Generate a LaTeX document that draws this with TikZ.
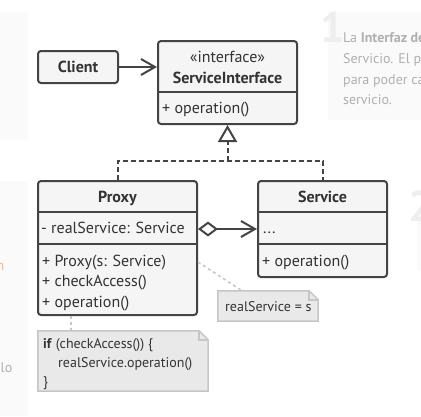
\documentclass[tikz,border=0pt]{standalone}
\usepackage{xcolor}
\usepackage{fontspec}
\setmainfont{PT Sans}
\usepackage{tikz}
\usetikzlibrary{calc}
\usetikzlibrary{arrows.meta}

\definecolor{boxline}{HTML}{444444}
\definecolor{boxfill}{HTML}{F5F5F5}
\definecolor{textcol}{HTML}{333333}
\definecolor{notefill}{HTML}{E9E9E9}
\definecolor{noteline}{HTML}{C6C6C6}
\definecolor{panelfill}{HTML}{FAFAFA}
\definecolor{fadetext}{HTML}{B0B0B0}
\definecolor{fadeorange}{HTML}{F0BC90}
\definecolor{bignum}{HTML}{EEEEEE}

\tikzset{
  classbox/.style={draw=boxline, line width=2pt, fill=boxfill, rounded corners=3pt, inner sep=0pt},
  classname/.style={inner sep=0pt, anchor=base, text=textcol, font=\fontsize{16}{18}\selectfont\bfseries},
  member/.style={inner sep=0pt, anchor=base west, text=textcol, font=\fontsize{16}{18}\selectfont},
  notebox/.style={draw=none, inner sep=0pt},
  notetext/.style={inner sep=0pt, anchor=base west, text=textcol, font=\fontsize{14}{16}\selectfont},
  notelink/.style={draw=noteline, line width=1.5pt, dash pattern=on 3pt off 3pt},
  assoc/.style={draw=boxline, line width=2pt, -{Straight Barb[length=14pt,width=16pt,line width=2pt]}},
  realize/.style={draw=boxline, line width=2pt, dash pattern=on 5pt off 3pt},
  fadeline/.style={inner sep=0pt, anchor=base west, text=fadetext, font=\fontsize{14}{16}\selectfont},
  bigdigit/.style={inner sep=0pt, anchor=base west, text=bignum, font=\fontsize{43}{43}\selectfont\bfseries},
}

\begin{document}
\begin{tikzpicture}[x=1pt,y=-1pt]
                \useasboundingbox (0,0) rectangle (421,416);
                \clip (0,0) rectangle (421,416);

                % Drawing faded panels round the picture
                \fill [panelfill] (0,12) rectangle (28,140);
                \fill [panelfill] (0,181) rectangle (28,416);
                \fill [panelfill] (328,12) rectangle (421,120);
                \fill [panelfill] (417,220) rectangle (421,270);
                \node [bigdigit] (numone) at (320,42) {1};
                \node [bigdigit] (numtwo) at (408,221) {2};
                \node [fadeline] (panelA) at (343,42) {La \textbf{Interfaz del}};
                \node [fadeline] (panelB) at (343,63) {Servicio. El proxy};
                \node [fadeline] (panelC) at (343,84) {para poder camuflarse};
                \node [fadeline] (panelD) at (343,104) {servicio.};
                \node [fadeline, anchor=base east, text=fadeorange] (leftA) at (4.5,270) {en};
                \node [fadeline, anchor=base east] (leftB) at (12.5,372) {ciclo};

                % Drawing class Client
                \node [classbox, minimum width=80pt, minimum height=32pt, text=textcol, font=\fontsize{16}{18}\selectfont\bfseries] (client) at (78,67) {Client};

                % Drawing class ServiceInterface
                \node [classbox, minimum width=139pt, minimum height=83pt] (iface) at (227.5,82.5) {};
                \draw [boxline, line width=2pt] (iface.west |- 0,92) -- (iface.east |- 0,92);
                \node [classname, font=\fontsize{16}{18}\selectfont] (ifacestereo) at (227.5,62) {«interface»};
                \node [classname] (ifacename) at (227.5,83.5) {ServiceInterface};
                \node [member] (ifaceop) at (162,113.5) {+ operation()};

                % Drawing class Proxy
                \node [classbox, minimum width=159pt, minimum height=134pt] (proxy) at (117.5,248) {};
                \draw [boxline, line width=2pt] (proxy.west |- 0,212) -- (proxy.east |- 0,212);
                \draw [boxline, line width=2pt] (proxy.west |- 0,244) -- (proxy.east |- 0,244);
                \node [classname] (proxyname) at (117.5,202.5) {Proxy};
                \node [member] (proxyfield) at (41,233.5) {- realService: Service};
                \node [member] (proxyctor) at (42,266) {+ Proxy(s: Service)};
                \node [member] (proxycheck) at (42,286.5) {+ checkAccess()};
                \node [member] (proxyop) at (42,307) {+ operation()};

                % Drawing class Service
                \node [classbox, minimum width=129pt, minimum height=96pt] (service) at (322.5,229) {};
                \draw [boxline, line width=2pt] (service.west |- 0,212) -- (service.east |- 0,212);
                \draw [boxline, line width=2pt] (service.west |- 0,244) -- (service.east |- 0,244);
                \node [classname] (servicename) at (322.5,202.5) {Service};
                \node [member] (servicefield) at (263,233) {...};
                \node [member] (serviceop) at (262,266) {+ operation()};

                % Drawing notes
                \node [notebox, minimum width=100pt, minimum height=30pt] (svcnote) at (268,306) {};
                \filldraw [fill=notefill, draw=noteline, line width=1.5pt] (svcnote.north west) -- ($(svcnote.north east)+(-9,0)$) -- ($(svcnote.north east)+(0,9)$) -- (svcnote.south east) -- (svcnote.south west) -- cycle;
                \draw [noteline, line width=1.5pt] ($(svcnote.north east)+(-9,0)$) -- ($(svcnote.north east)+(-9,9)$) -- ($(svcnote.north east)+(0,9)$);
                \node [notetext] (svcnotetext) at (225,311.5) {realService = s};

                \node [notebox, minimum width=170pt, minimum height=60pt] (ifnote) at (123,361) {};
                \filldraw [fill=notefill, draw=noteline, line width=1.5pt] (ifnote.north west) -- ($(ifnote.north east)+(-9,0)$) -- ($(ifnote.north east)+(0,9)$) -- (ifnote.south east) -- (ifnote.south west) -- cycle;
                \draw [noteline, line width=1.5pt] ($(ifnote.north east)+(-9,0)$) -- ($(ifnote.north east)+(-9,9)$) -- ($(ifnote.north east)+(0,9)$);
                \node [notetext] (ifline1) at (43,348) {\textbf{if} (checkAccess()) \{};
                \node [notetext] (ifline2) at (58,367) {realService.operation()};
                \node [notetext] (ifline3) at (43,386) {\}};

                % Drawing connectors
                \draw [assoc] (client.east) -- (client.east -| iface.west);
                \coordinate (join) at (227.5,161);
                \draw [realize] (proxy.north) |- (join) -| (service.north);
                \draw [realize, -{Triangle[open, length=17pt, width=19pt, line width=2pt]}] (join) -- (iface.south);
                \draw [assoc, {Diamond[open, length=20pt, width=15pt, line width=2pt]}-{Straight Barb[length=14pt,width=16pt,line width=2pt]}] (proxy.east |- 0,229) -- (service.west |- 0,229);
                \draw [notelink] (proxy.east |- 0,262) -- (svcnote.north -| 242,0);
                \draw [notelink] (proxy.south -| 71,0) -- (ifnote.north -| 71,0);
            \end{tikzpicture}
\end{document}
